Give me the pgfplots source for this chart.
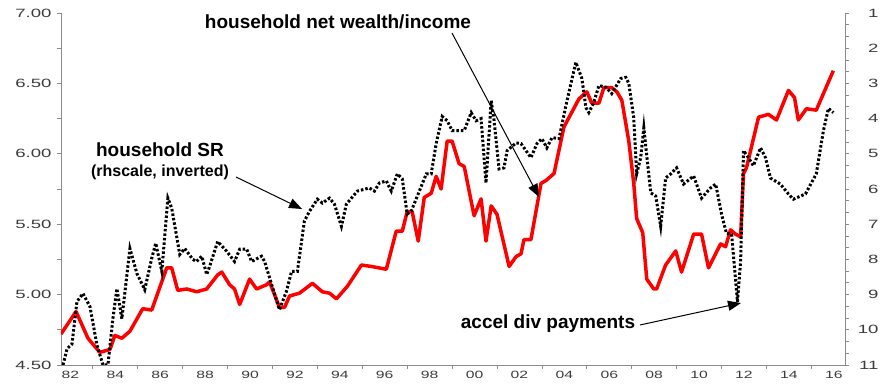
\documentclass[border=0pt]{standalone}
\usepackage{pgfplots}
\pgfplotsset{compat=1.18}
\usepackage{graphicx}
\usepackage{fontspec}
\setmainfont{Liberation Sans}
\usetikzlibrary{arrows.meta}
\newcommand{\yl}[1]{\scalebox{1.55}[1]{\fontsize{12}{12}\selectfont #1}}
\newcommand{\xl}[1]{\scalebox{1.5}[1]{\fontsize{10.5}{10.5}\selectfont #1}}
\definecolor{axgray}{RGB}{140,140,140}
\definecolor{lblgray}{RGB}{60,60,60}
\begin{document}
\begin{tikzpicture}
\useasboundingbox (-61pt,-22pt) rectangle (825pt,365pt);
\begin{axis}[
  at={(0,0)}, anchor=south west,
  width=784pt, height=352pt, scale only axis,
  xmin=1982.58, xmax=2017.5, ymin=4.5, ymax=7.0,
  axis x line*=bottom, axis y line*=left,
  axis line style={-, draw=axgray, line width=0.8pt},
  tick align=outside, tick style={draw=axgray, line width=0.8pt},
  major tick length=4pt, minor tick length=4pt,
  xtick={1983,1985,...,2017},
  xticklabels={\xl{82},\xl{84},\xl{86},\xl{88},\xl{90},\xl{92},\xl{94},\xl{96},\xl{98},\xl{00},\xl{02},\xl{04},\xl{06},\xl{08},\xl{10},\xl{12},\xl{14},\xl{16}},
  minor xtick={1984,1986,...,2016},
  every major x tick/.append style={draw=none},
  ytick={4.5,5,5.5,6,6.5,7},
  yticklabels={\yl{4.50},\yl{5.00},\yl{5.50},\yl{6.00},\yl{6.50},\yl{7.00}},
  minor y tick num=1,
  ticklabel style={text=lblgray},
  yticklabel style={xshift=-2pt},
  xticklabel style={yshift=1pt},
]
\addplot[red, line width=3.5pt, line join=round] coordinates {
(1982.58,4.72)(1983.25,4.88)(1983.78,4.69)(1984.31,4.59)(1984.76,4.61)(1984.98,4.71)
(1985.29,4.69)(1985.65,4.74)(1986.22,4.90)(1986.62,4.89)(1987.29,5.19)(1987.51,5.19)
(1987.78,5.03)(1988.18,5.04)(1988.62,5.02)(1989.07,5.04)(1989.56,5.14)(1989.74,5.16)
(1990.09,5.07)(1990.31,5.04)(1990.54,4.93)(1990.98,5.11)(1991.29,5.04)(1991.74,5.07)
(1991.87,5.09)(1992.31,4.91)(1992.54,4.91)(1992.76,4.99)(1993.20,5.01)(1993.78,5.08)
(1994.22,5.02)(1994.54,5.01)(1994.85,4.97)(1995.34,5.06)(1995.96,5.21)(1996.40,5.20)
(1997.07,5.18)(1997.51,5.45)(1997.78,5.45)(1998.00,5.59)(1998.22,5.59)(1998.49,5.38)
(1998.76,5.69)(1999.07,5.72)(1999.29,5.84)(1999.51,5.75)(1999.78,6.09)(2000.00,6.09)
(2000.31,5.93)(2000.54,5.91)(2000.98,5.56)(2001.29,5.68)(2001.51,5.38)(2001.74,5.63)
(2002.00,5.57)(2002.54,5.20)(2002.85,5.27)(2003.07,5.29)(2003.20,5.39)(2003.51,5.39)
(2003.96,5.79)(2004.18,5.81)(2004.54,5.86)(2004.98,6.19)(2005.65,6.39)(2006.00,6.44)
(2006.22,6.36)(2006.54,6.36)(2006.76,6.47)(2007.11,6.47)(2007.34,6.44)(2007.56,6.38)
(2007.87,6.09)(2008.09,5.79)(2008.22,5.54)(2008.49,5.44)(2008.67,5.11)(2008.98,5.04)
(2009.11,5.04)(2009.51,5.21)(2009.96,5.31)(2010.22,5.16)(2010.76,5.43)(2011.11,5.43)
(2011.42,5.19)(2011.96,5.36)(2012.18,5.34)(2012.40,5.46)(2012.62,5.43)(2012.85,5.41)
(2012.98,5.86)(2013.11,5.90)(2013.65,6.26)(2014.09,6.28)(2014.45,6.24)(2014.98,6.45)
(2015.25,6.40)(2015.42,6.24)(2015.78,6.32)(2016.22,6.31)(2016.98,6.59)
};
\end{axis}
\begin{axis}[
  at={(0,0)}, anchor=south west,
  width=784pt, height=352pt, scale only axis,
  xmin=1982.58, xmax=2017.5, ymin=1, ymax=11, y dir=reverse,
  axis x line=none, axis y line*=right,
  axis line style={-, draw=axgray, line width=0.8pt},
  tick align=outside, tick style={draw=axgray, line width=0.8pt},
  major tick length=4pt, minor tick length=4pt,
  ytick={1,2,...,11},
  yticklabels={\yl{1},\yl{2},\yl{3},\yl{4},\yl{5},\yl{6},\yl{7},\yl{8},\yl{9},\yl{10},\yl{11}},
  minor y tick num=2,
  yticklabel style={text=lblgray, text width=26pt, align=right},
]
\addplot[black, line width=3pt, dash pattern=on 2.5pt off 2pt] coordinates {
(1982.67,11.0)(1982.85,10.54)(1983.07,10.40)(1983.29,9.20)(1983.56,8.97)(1983.87,9.34)
(1984.18,10.43)(1984.45,11.0)(1984.67,11.0)(1984.89,9.69)(1985.07,8.83)(1985.29,9.69)
(1985.42,8.97)(1985.65,7.69)(1985.96,8.40)(1986.31,8.86)(1986.62,7.97)(1986.80,7.54)
(1987.07,8.34)(1987.34,6.26)(1987.51,6.54)(1987.87,7.86)(1988.09,7.69)(1988.45,8.00)
(1988.62,8.06)(1988.85,7.91)(1989.07,8.43)(1989.20,8.20)(1989.56,7.49)(1989.96,7.77)
(1990.31,8.06)(1990.54,7.71)(1990.85,7.71)(1991.07,8.06)(1991.51,7.91)(1991.65,8.06)
(1991.96,8.71)(1992.31,9.43)(1992.62,8.91)(1992.85,8.34)(1993.11,8.34)(1993.42,6.91)
(1993.65,6.63)(1994.00,6.29)(1994.22,6.40)(1994.54,6.26)(1994.76,6.43)(1995.07,7.06)
(1995.29,6.43)(1995.78,6.06)(1996.31,5.97)(1996.54,6.06)(1996.76,5.83)(1997.07,5.77)
(1997.29,6.06)(1997.56,5.57)(1997.78,5.71)(1998.00,6.71)(1998.18,6.63)(1998.85,5.57)
(1999.07,5.57)(1999.29,4.71)(1999.56,3.94)(1999.78,4.06)(2000.00,4.34)(2000.54,4.34)
(2000.85,3.83)(2001.07,4.06)(2001.29,4.00)(2001.51,5.83)(2001.74,3.49)(2001.87,4.06)
(2002.09,5.43)(2002.31,5.40)(2002.45,4.91)(2002.85,4.69)(2003.07,4.71)(2003.51,5.11)
(2003.78,4.71)(2004.00,4.57)(2004.22,4.83)(2004.45,4.54)(2004.76,4.57)(2005.07,3.63)
(2005.51,2.40)(2005.78,2.86)(2005.96,3.69)(2006.09,3.83)(2006.31,3.54)(2006.54,3.06)
(2006.85,3.11)(2007.11,3.29)(2007.51,2.86)(2007.74,2.83)(2007.87,3.00)(2008.09,3.97)
(2008.22,5.57)(2008.40,5.11)(2008.54,4.26)(2008.67,5.06)(2008.85,6.11)(2009.07,6.20)
(2009.29,7.06)(2009.51,5.69)(2009.74,5.57)(2010.00,5.40)(2010.31,5.86)(2010.76,5.63)
(2011.11,6.26)(2011.51,5.97)(2011.74,5.86)(2012.00,6.71)(2012.22,7.26)(2012.45,7.29)
(2012.71,9.20)(2012.85,8.06)(2012.98,4.91)(2013.20,5.11)(2013.42,5.34)(2013.74,4.83)
(2013.96,5.11)(2014.18,5.69)(2014.62,5.86)(2014.98,6.14)(2015.20,6.29)(2015.74,6.14)
(2016.22,5.57)(2016.54,4.34)(2016.76,3.71)(2016.98,3.83)
};
\end{axis}
% annotations (pt offsets from the axis' lower left corner)
\node[font=\fontsize{19}{21}\selectfont\bfseries] at (277pt,343pt) {household net wealth/income};
\draw[line width=1pt, -{Triangle[length=13pt,width=10pt]}] (391pt,332pt) -- (478pt,168pt);
\node[font=\fontsize{19}{21}\selectfont\bfseries] at (99pt,215pt) {household SR};
\node[font=\fontsize{16}{18}\selectfont\bfseries] at (99pt,193pt) {(rhscale, inverted)};
\draw[line width=1pt, -{Triangle[length=13pt,width=10pt]}] (175pt,188pt) -- (241pt,156pt);
\node[font=\fontsize{19}{21}\selectfont\bfseries] at (487pt,41pt) {accel div payments};
\draw[line width=1pt, -{Triangle[length=13pt,width=10pt]}] (579pt,40pt) -- (680pt,62pt);
\end{tikzpicture}
\end{document}
